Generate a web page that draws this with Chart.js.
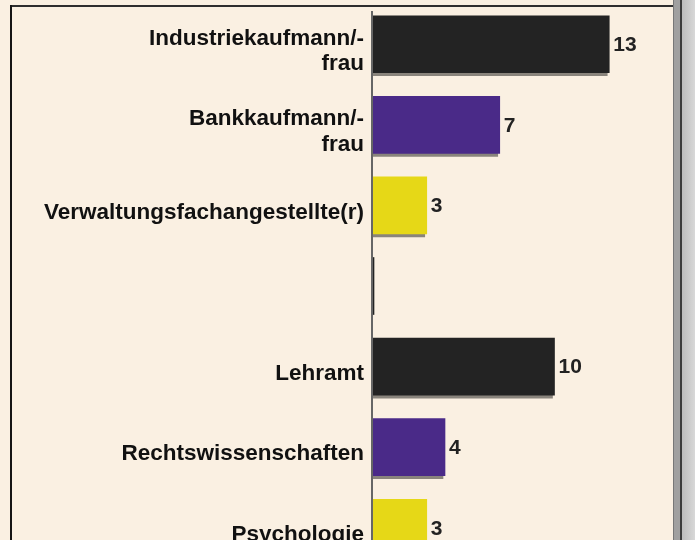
<!DOCTYPE html>
<html><head><meta charset="utf-8">
<script src="https://cdn.jsdelivr.net/npm/chart.js@4/dist/chart.umd.min.js"></script>
<style>
html,body{margin:0;padding:0;background:#faf0e2;overflow:hidden;width:695px;height:540px;}
#wrap{position:relative;width:695px;height:540px;overflow:hidden;}
.fr{position:absolute;}
canvas{position:absolute;left:0;top:0;}
</style></head><body>
<div id="wrap">
<div class="fr" style="left:10px;top:5px;width:663px;height:2px;background:#2e2e2e"></div>
<div class="fr" style="left:10px;top:5px;width:2px;height:540px;background:#151515"></div>
<div class="fr" style="left:673px;top:0;width:1px;height:540px;background:#777"></div>
<div class="fr" style="left:674px;top:0;width:6px;height:540px;background:#a0a0a0"></div>
<div class="fr" style="left:680px;top:0;width:2px;height:540px;background:#3c3c3c"></div>
<div class="fr" style="left:682px;top:0;width:13px;height:540px;background:linear-gradient(to right,#bdbdbd,#d8d8d8)"></div>
<canvas id="c" width="695" height="580"></canvas>
</div>
<script>
const categories = [
  ['Industriekaufmann/-', 'frau'],
  ['Bankkaufmann/-', 'frau'],
  'Verwaltungsfachangestellte(r)',
  '',
  'Lehramt',
  'Rechtswissenschaften',
  'Psychologie'
];
const values = [13, 7, 3, 0, 10, 4, 3];
const barColors = ['#232323', '#4a2a88', '#e6d817', '#232323', '#232323', '#4a2a88', '#e6d817'];

const points = values.map((v, i) => ({ x: v, y: i }));

const barExtras = {
  id: 'barExtras',
  beforeDatasetsDraw(chart) {
    const c = chart.ctx;
    c.save();
    c.shadowColor = 'rgba(0,0,0,0.45)';
    c.shadowOffsetX = -2;
    c.shadowOffsetY = 3;
    c.shadowBlur = 0;
  },
  afterDatasetsDraw(chart) {
    const c = chart.ctx;
    c.restore();
    const meta = chart.getDatasetMeta(0);
    c.save();
    c.font = 'bold 21px "Liberation Sans", Arial, sans-serif';
    c.fillStyle = '#222';
    c.textAlign = 'left';
    c.textBaseline = 'middle';
    meta.data.forEach((bar, i) => {
      if (!values[i]) return;
      c.fillText(String(values[i]), bar.x + 4, bar.y + 1);
    });
    c.restore();
  }
};

new Chart(document.getElementById('c'), {
  type: 'bar',
  data: {
    datasets: [{
      data: points,
      backgroundColor: barColors,
      borderWidth: 0,
      barThickness: 57,
      minBarLength: 2
    }]
  },
  options: {
    responsive: false,
    animation: false,
    indexAxis: 'y',
    layout: { padding: { left: 10, right: 31, top: 12, bottom: 20 } },
    plugins: { legend: { display: false }, tooltip: { enabled: false } },
    scales: {
      x: { display: false, min: 0, max: 16 },
      y: {
        type: 'linear',
        reverse: true,
        offset: false,
        bounds: 'data',
        min: -0.4,
        max: 6.4,
        afterBuildTicks: s => { s.ticks = categories.map((_, i) => ({ value: i })); },
        afterFit: s => { s.width = 362; s.paddingTop = 0; s.paddingBottom = 0; },
        grid: { display: false, drawTicks: false, offset: false },
        border: { display: true, color: '#666', width: 2, z: 1 },
        ticks: {
          padding: 8,
          labelOffset: 7,
          color: '#111',
          font: { family: '"Liberation Sans", Arial, sans-serif', size: 22.5, weight: 'bold', lineHeight: 1.12 },
          callback: v => categories[v]
        }
      }
    }
  },
  plugins: [barExtras]
});
</script>
</body></html>
